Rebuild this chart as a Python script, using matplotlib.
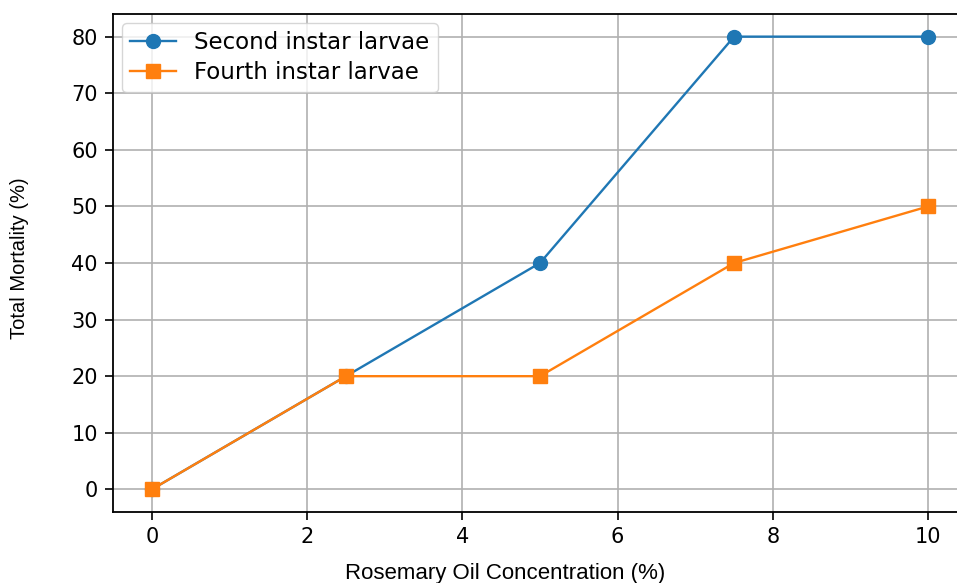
import matplotlib
matplotlib.use("Agg")
import matplotlib.pyplot as plt

concentration = [0, 2.5, 5, 7.5, 10]
second_instar = [0, 20, 40, 80, 80]
fourth_instar = [0, 20, 20, 40, 50]
x_ticks = [0, 2, 4, 6, 8, 10]
y_ticks = [0, 10, 20, 30, 40, 50, 60, 70, 80]

fig = plt.figure(figsize=(9.57, 5.83), dpi=100)
ax = fig.add_axes([113/957, 1-512/583, (967-113)/957, (512-14)/583])

ax.plot(concentration, second_instar, marker='o', color='#1f77b4', lw=1.7, ms=10,
        label='Second instar larvae')
ax.plot(concentration, fourth_instar, marker='s', color='#ff7f0e', lw=1.7, ms=10,
        label='Fourth instar larvae')

ax.set_xlim(-0.5, 10.5)
ax.set_ylim(-4, 84)
ax.set_xticks(x_ticks)
ax.set_yticks(y_ticks)
ax.tick_params(labelsize=15, width=1.2, length=6, pad=5)
ax.grid(True, color='#b0b0b0', lw=1.2)
for s in ax.spines.values():
    s.set_linewidth(1.3)

ax.legend(loc='upper left', fontsize=16.5, borderaxespad=0.4, labelspacing=0.3,
          borderpad=0.35)

fig.text(345/957, 1-573/583, 'Rosemary Oil Concentration (%)', fontsize=16,
         family='Liberation Sans', ha='left', va='center')
fig.text(20/957, 1-258/583, 'Total Mortality (%)', fontsize=14.5, rotation=90,
         family='Liberation Sans', ha='center', va='center')

fig.savefig('out.png', dpi=100)
